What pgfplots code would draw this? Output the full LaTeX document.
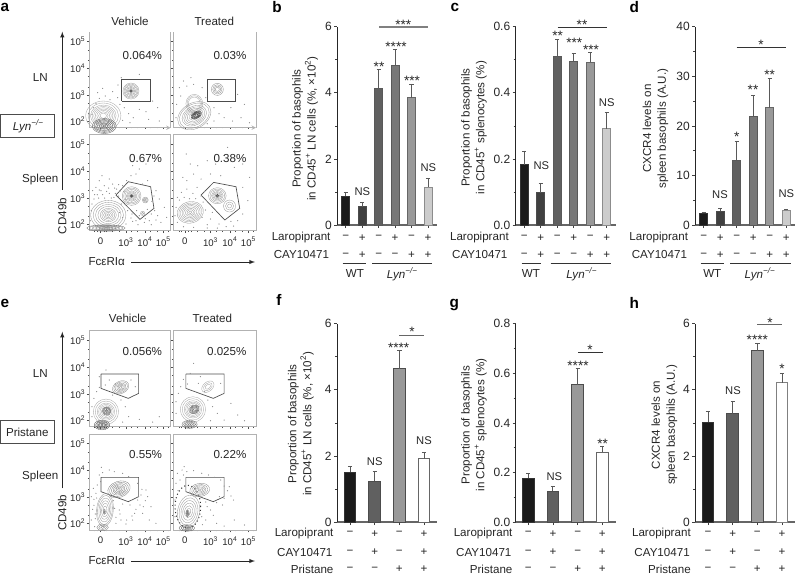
\documentclass[border=0pt]{standalone}
\usepackage{fontspec}
\setmainfont{Liberation Sans}
\usepackage{pgfplots}
\pgfplotsset{compat=1.18}

\definecolor{txt}{HTML}{262626}
\definecolor{c1}{HTML}{1A1A1A}
\definecolor{c2}{HTML}{404040}
\definecolor{c3}{HTML}{606060}
\definecolor{c4}{HTML}{787878}
\definecolor{c5}{HTML}{999999}
\definecolor{c6}{HTML}{CCCCCC}

\newcommand{\fmain}{\fontsize{8.7}{11.2}\selectfont}
\newcommand{\fnum}{\fontsize{9}{11}\selectfont}
\newcommand{\fsmall}{\fontsize{7.2}{8}\selectfont}

\pgfplotsset{
  pos/.style 2 args={at={({#1*0.75pt},{-#2*0.75pt})},anchor=south west},
  barax/.style={scale only axis,height=148.7pt,ymin=0,axis lines=left,
    axis line style={-},clip=false,
    x axis line style={draw=black!60,line width=.8pt},
    y axis line style={draw=black!85,line width=.5pt},
    tick style={black!75,line width=.5pt},tick align=outside,
    major tick length=2.4pt,minor tick length=1.6pt,minor y tick num=1,
    xticklabels={},ticklabel style={font=\fnum,text=txt,inner sep=1.5pt},
    /pgf/number format/assume math mode=true},
  facs/.style={scale only axis,width=61pt,height=72pt,
    xmin=0,xmax=244,ymin=0,ymax=288,
    axis line style={-,draw=black!30,line width=.5pt},
    tick style={black!70,line width=.3pt},tick align=outside,
    major tick length=1.8pt,minor tick length=1pt,
    xtick={34,110,167,222},ytick={19,98,178,259},
    minor xtick={16,24,44,52,70,90,127,145,184,204,236},
    minor ytick={43,75,122,154,202,234},
    xticklabels={},yticklabels={},xtick pos=bottom,ytick pos=left,
    ticklabel style={font=\fsmall,text=txt,inner sep=1pt},
    xticklabel style={yshift=-2pt}},
  rgt/.style={width=62pt},
  ylabs/.style={yticklabels={10\textsuperscript{2},10\textsuperscript{3},10\textsuperscript{4},10\textsuperscript{5}}},
  xlabs/.style={xticklabels={0,10\textsuperscript{3},10\textsuperscript{4},10\textsuperscript{5}}},
  dots/.style={only marks,mark=*,mark size=.18pt,black!45,mark options={draw=none,fill=black!45}},
  gate/.style={draw=black!70,line width=.5pt,no markers},
}

% one bar with its error whisker
\newcommand{\bbar}[5]{\addplot[ybar,bar shift=0pt,fill=#4,draw=#5,line width=.7pt,
  error bars/.cd,y dir=plus,y explicit,
  error bar style={draw=black!65,line width=.7pt},
  error mark options={rotate=90,mark size=1.6pt,draw=black!65,line width=.6pt}]
  coordinates {(#1,#2) +- (0,#3)};}
% nested contour levels of one cell population
\newcommand{\blob}[6]{\pgfplotsinvokeforeach{#6}{\addplot[only marks,mark=o,mark size=##1pt,
  mark options={solid,draw=#5,fill=none,line width=.25pt,rotate=#4,xscale=#3}] coordinates {(#1,#2)};}}

\newcommand{\T}[3]{\node[text=txt,font=\fmain] at (#1,#2) {#3};}
\newcommand{\NS}[2]{\node[text=txt,font=\fontsize{8.4}{10}\selectfont] at (#1,#2) {NS};}
\newcommand{\Sg}[3]{\node[text=txt,anchor=base,inner sep=0pt,font=\fontsize{10.2}{11}\selectfont] at (#1,{#2+7.7}) {#3};}
\newcommand{\Lr}[2]{\node[text=txt,anchor=east,inner sep=0pt,font=\fmain] at (#1,#2) {Laropiprant};}
\newcommand{\Ca}[2]{\node[text=txt,anchor=east,inner sep=0pt,font=\fmain] at (#1,#2) {CAY10471};}
\newcommand{\Prs}[2]{\node[text=txt,anchor=east,inner sep=0pt,font=\fmain] at (#1,#2) {Pristane};}
\newcommand{\Signs}[4]{\foreach \s [count=\i from 0] in {#4} \node[text=txt,inner sep=0pt,font=\fmain] at ({#1+\i*#2},#3) {\s};}
\newcommand{\Yl}[3]{\node[text=txt,rotate=90,align=center,font=\fmain] at (#1,#2) {#3};}
\newcommand{\Pl}[3]{\node[text=black,font=\bfseries\fontsize{11.5}{12}\selectfont] at (#1,#2) {#3};}
\newcommand{\Pc}[3]{\node[text=txt,anchor=east,inner sep=0pt,font=\fmain] at (#1,#2) {#3};}
\newcommand{\Lyn}{\textit{Lyn}\textsuperscript{\textit{−/−}}}
\newcommand{\LNa}{Proportion of basophils\\in CD45\textsuperscript{+} LN cells (\%, ×10\textsuperscript{2})}
\newcommand{\SPa}{Proportion of basophils\\in CD45\textsuperscript{+} splenocytes (\%)}
\newcommand{\CXa}{CXCR4 levels on\\spleen basophils (A.U.)}

\begin{document}
\begin{tikzpicture}[x=0.75pt,y=-0.75pt]
\path[use as bounding box] (0,0) rectangle (795,575);

% ---- panel a, flow plots
\begin{axis}[facs,pos={89.3}{127.7},ylabs,axis x line=bottom,axis y line=box]
\addplot[dots] coordinates {(12,60)(20,72)(30,88)(48,95)(62,84)(85,90)(92,70)(105,60)(118,42)(132,30)(150,55)(170,48)(190,80)(205,60)(25,105)(40,118)(70,108)(86,128)(150,160)(96,150)(8,40)(100,22)(122,15)(178,25)(210,20)};
\blob{42}{36}{1.2}{0}{black!35}{2,3,4,5,6,7,8,9.5,11}
\blob{45}{5}{1.6}{0}{black!65}{.8,1.6,2.4,3.2,4,4.8,5.6}
\blob{125}{110}{1}{0}{black!40}{1.2,2,2.8,3.6,4.4,5.2,6}
\blob{125}{110}{1}{0}{black!80}{.5,1}
\addplot[gate] coordinates {(97,79)(182,79)(182,144)(97,144)(97,79)};
\end{axis}
\begin{axis}[facs,rgt,pos={173.3}{127.7},axis x line=bottom,axis y line=box]
\addplot[dots] coordinates {(10,70)(22,95)(18,120)(40,125)(60,130)(85,120)(96,90)(120,60)(135,42)(150,30)(170,60)(200,30)(225,15)(8,30)(210,70)(190,100)(175,20)(120,20)(100,12)(30,140)(52,150)};
\blob{62}{72}{.9}{0}{black!35}{5,6,7}
\blob{62}{36}{1.4}{30}{black!40}{1,2,3,4,5,6,7,8.5,9.5}
\blob{68}{38}{1.8}{30}{black!80}{.8,1.2,1.6,2,2.4}
\blob{130}{115}{1}{0}{black!45}{1.5,2.5,3.5,4.5}
\addplot[gate] coordinates {(99,79)(183,79)(183,144)(99,144)(99,79)};
\end{axis}
\begin{axis}[facs,pos={89.3}{230.7},ylabs,xlabs]
\addplot[dots] coordinates {(8,80)(14,95)(24,108)(35,120)(46,98)(60,112)(74,100)(82,125)(92,118)(20,130)(45,135)(70,140)(100,135)(112,150)(125,165)(140,170)(160,140)(175,150)(200,120)(210,95)(196,60)(205,45)(180,30)(165,25)(140,30)(125,38)(110,20)(100,40)(90,55)(115,60)(128,50)(142,60)(150,45)(168,36)(186,50)(96,80)(108,78)(60,155)(30,150)(10,120)(6,60)(150,185)(170,200)(130,195)(225,70)(232,40)(215,25)(3,30)(38,165)(16,108)(28,98)(40,108)(52,118)(66,98)(78,112)(88,104)(30,122)(58,128)(76,128)(88,138)(104,118)(110,94)(116,84)(130,28)(146,18)(186,18)(200,32)(174,64)(188,88)(194,104)};
\blob{57}{47}{1.2}{0}{black!40}{1,2,3,4,5,6.5,8,9.5,11}
\blob{50}{8}{6}{0}{black!55}{.5,.9,1.3,1.7,2.1,2.4}
\blob{127}{104}{1}{0}{black!40}{1.6,2.4,3.2,4,5,6,7}
\blob{127}{104}{1}{0}{black!80}{.6,1.1}
\blob{168}{92}{1}{0}{black!45}{.8,1.5,2.2}
\blob{160}{52}{1}{0}{black!40}{.8,1.6}
\addplot[gate] coordinates {(117,147)(184,132)(194,67)(152,34)(80,107)(117,147)};
\end{axis}
\begin{axis}[facs,rgt,pos={173.3}{230.7},xlabs]
\addplot[dots] coordinates {(12,100)(24,115)(40,125)(58,112)(70,130)(92,118)(40,150)(28,160)(82,155)(110,170)(125,200)(100,210)(150,225)(180,190)(205,130)(220,90)(205,50)(190,30)(170,28)(135,20)(110,35)(100,18)(85,40)(95,62)(115,55)(60,170)(72,195)(50,200)(38,230)(140,165)(160,250)(205,200)(225,160)(12,25)(30,12)(60,10)(130,8)(5,45)(18,92)(32,100)(48,96)(66,96)(82,104)(88,86)(8,70)(100,8)(156,12)(178,14)};
\blob{50}{55}{1.25}{15}{black!40}{1,2,3,4,5,6,7,8}
\blob{130}{105}{1.1}{0}{black!40}{1.6,2.4,3.2,4,5,6}
\blob{130}{105}{1.1}{0}{black!80}{.6,1.1}
\blob{166}{74}{1}{0}{black!40}{1.5,3,4.5}
\addplot[gate] coordinates {(119,145)(185,132)(196,67)(152,32)(82,107)(119,145)};
\end{axis}

% ---- panel e, flow plots
\begin{axis}[facs,pos={89.3}{426.7},ylabs]
\addplot[dots] coordinates {(8,60)(14,85)(22,105)(30,118)(48,125)(78,128)(70,95)(95,80)(108,60)(118,30)(150,22)(190,14)(30,150)(50,170)(100,14)(60,140)(8,30)(125,140)(138,120)(210,30)};
\blob{50}{45}{1}{0}{black!35}{3.5,4.5,5.5,6.5,8,9.5}
\blob{52}{47}{1}{0}{black!65}{.8,1.4,2,2.6,3.2}
\blob{38}{5}{1.6}{0}{black!70}{.6,1.2,1.8,2.4,3,3.6}
\blob{94}{118}{1.4}{25}{black!45}{.8,1.5,2.2,3,3.8,4.6}
\addplot[gate] coordinates {(35,158)(148,158)(148,100)(117,85)(35,115)(35,158)};
\end{axis}
\begin{axis}[facs,rgt,pos={173.3}{426.7}]
\addplot[dots] coordinates {(8,75)(15,100)(22,120)(42,128)(74,130)(92,105)(102,80)(116,60)(130,40)(150,20)(190,35)(30,142)(50,160)(80,150)(8,40)(110,18)(140,130)(210,18)(170,70)(60,190)};
\blob{58}{52}{1}{0}{black!35}{3.5,4.5,5.5,6.5,8,9.5}
\blob{62}{52}{1.2}{30}{black!65}{.8,1.4,2,2.6,3.2}
\blob{48}{7}{1.9}{0}{black!60}{.6,1.2,1.8,2.4,3}
\blob{102}{120}{1.5}{40}{black!35}{1.5,2.5,3.5}
\addplot[gate] coordinates {(37,158)(150,158)(150,100)(118,85)(37,115)(37,158)};
\end{axis}
\begin{axis}[facs,pos={89.3}{530},ylabs,xlabs]
\addplot[dots] coordinates {(6,30)(10,62)(14,92)(20,110)(12,125)(24,135)(34,145)(30,165)(40,172)(80,38)(90,60)(100,78)(95,30)(110,18)(128,42)(145,90)(152,75)(140,62)(155,105)(168,88)(160,50)(130,30)(122,75)(158,122)(145,140)(118,160)(100,170)(75,175)(60,180)(36,188)(170,120)(175,100)(185,70)(72,88)(76,65)(6,100)(18,48)(180,30)(200,20)(16,10)(14,74)(18,34)(22,96)(80,20)(92,48)(136,50)(148,100)(162,70)(112,30)};
\blob{47}{60}{.5}{-5}{black!40}{3,5,7,9,11,12.5}
\blob{45}{55}{.4}{0}{black!55}{1,2}
\blob{40}{8}{1.8}{0}{black!50}{.8,1.6,2.4}
\blob{89}{122}{1.45}{20}{black!50}{.8,1.6,2.4,3.2,4,5,6}
\addplot[gate] coordinates {(35,158)(148,158)(148,100)(117,85)(35,115)(35,158)};
\end{axis}
\begin{axis}[facs,rgt,pos={173.3}{530},xlabs]
\addplot[only marks,mark=o,mark size=16pt,mark options={dotted,draw=black!80,fill=none,line width=.8pt,xscale=.6}] coordinates {(43,70)};
\addplot[dots] coordinates {(8,140)(14,118)(20,150)(30,165)(26,180)(40,175)(60,178)(84,170)(104,165)(122,158)(140,150)(150,132)(136,100)(128,82)(110,60)(118,44)(96,30)(86,16)(128,20)(150,12)(96,84)(100,70)(84,40)(145,75)(160,118)(170,102)(178,90)(150,95)(12,170)(5,90)(180,30)(210,15)(5,40)(32,190)(165,130)};
\blob{45}{55}{.66}{-10}{black!40}{2.5,4.5,6.5,8.5,10.5,12.5}
\blob{42}{50}{.55}{0}{black!60}{.8,1.6,2.4}
\blob{78}{120}{1.5}{10}{black!45}{.8,1.6,2.4,3.2,4,5}
\blob{40}{6}{2.4}{0}{black!65}{.6,1.2,1.8,2.4}
\addplot[gate] coordinates {(37,158)(150,158)(150,100)(118,85)(37,115)(37,158)};
\end{axis}

% ---- panel b
\begin{axis}[barax,width=74.55pt,pos={337.3}{225},
  xmin=-0.51,xmax=5.525,ymax=6,xtick={0,...,5},ytick={0,2,4,6},bar width=6pt]
\bbar{0}{0.87}{0.11}{c1}{black!80}
\bbar{1}{0.55}{0.13}{c2}{black!70}
\bbar{2}{4.12}{0.58}{c3}{black!65}
\bbar{3}{4.83}{0.47}{c4}{black!65}
\bbar{4}{3.85}{0.42}{c5}{black!60}
\bbar{5}{1.15}{0.25}{c6}{black!45}
\end{axis}
% ---- panel c
\begin{axis}[barax,width=75pt,pos={515.7}{225},
  xmin=-0.522,xmax=5.55,ymax=0.6,xtick={0,...,5},ytick={0,0.2,0.4,0.6},bar width=6pt,
  /pgf/number format/.cd,fixed,fixed zerofill,precision=1]
\bbar{0}{0.182}{0.042}{c1}{black!80}
\bbar{1}{0.098}{0.028}{c2}{black!70}
\bbar{2}{0.509}{0.053}{c3}{black!65}
\bbar{3}{0.496}{0.023}{c4}{black!65}
\bbar{4}{0.493}{0.030}{c5}{black!60}
\bbar{5}{0.292}{0.049}{c6}{black!45}
\end{axis}
% ---- panel d
\begin{axis}[barax,width=74.8pt,pos={695.3}{225},
  xmin=-0.51,xmax=5.53,ymax=40,xtick={0,...,5},ytick={0,10,20,30,40},bar width=6pt]
\bbar{0}{2.35}{0.2}{c1}{black!80}
\bbar{1}{2.75}{0.6}{c2}{black!70}
\bbar{2}{13.04}{3.76}{c3}{black!65}
\bbar{3}{21.85}{4.3}{c4}{black!65}
\bbar{4}{23.66}{5.84}{c5}{black!60}
\bbar{5}{2.96}{0.19}{c6}{black!45}
\end{axis}
% ---- panel f
\begin{axis}[barax,width=74.8pt,pos={337}{522},
  xmin=-0.527,xmax=3.514,ymax=6,xtick={0,...,3},ytick={0,2,4,6},bar width=8.8pt]
\bbar{0}{1.5}{0.17}{c1}{black!80}
\bbar{1}{1.23}{0.29}{c3}{black!70}
\bbar{2}{4.64}{0.55}{c5}{black!70}
\bbar{3}{1.92}{0.19}{white}{black!60}
\end{axis}
% ---- panel g
\begin{axis}[barax,width=75pt,pos={515.7}{522},
  xmin=-0.51,xmax=3.543,ymax=0.8,xtick={0,...,3},ytick={0,0.2,0.4,0.6,0.8},bar width=8.8pt,
  /pgf/number format/.cd,fixed,fixed zerofill,precision=1]
\bbar{0}{0.177}{0.019}{c1}{black!80}
\bbar{1}{0.124}{0.02}{c3}{black!70}
\bbar{2}{0.553}{0.066}{c5}{black!70}
\bbar{3}{0.282}{0.024}{white}{black!60}
\end{axis}
% ---- panel h
\begin{axis}[barax,width=74.8pt,pos={695.3}{522},
  xmin=-0.515,xmax=3.527,ymax=6,xtick={0,...,3},ytick={0,2,4,6},bar width=8.8pt]
\bbar{0}{3.02}{0.32}{c1}{black!80}
\bbar{1}{3.27}{0.37}{c3}{black!70}
\bbar{2}{5.19}{0.21}{c5}{black!70}
\bbar{3}{4.22}{0.28}{white}{black!50}
\end{axis}

% ---- text around the flow plots
\Pl{5}{7}{a}\Pl{5}{303}{e}
\T{130}{21.7}{Vehicle}\T{214.3}{21.7}{Treated}
\T{40.3}{77.3}{LN}\T{40.3}{179.3}{Spleen}
\draw[draw=black!70,line width=.6pt] (0.7,114.3) rectangle (54,137);
\T{28.3}{126}{\Lyn}
\draw[-latex,black!85,line width=.5pt] (62.3,190)--(62.3,31.7);
\node[text=txt,rotate=90,font=\fmain] at (62.3,216) {CD49b};
\T{106.7}{262}{FcεRIα}
\draw[-latex,black!85,line width=.5pt] (131,262)--(255,262);
\Pc{162.3}{55.7}{0.064\%}\Pc{246.7}{55.7}{0.03\%}
\Pc{162.3}{158.7}{0.67\%}\Pc{246.7}{158.7}{0.38\%}

\T{127.7}{318.3}{Vehicle}\T{212.3}{318.3}{Treated}
\T{40.3}{374}{LN}\T{40.3}{476}{Spleen}
\draw[draw=black!70,line width=.6pt] (0.7,420.7) rectangle (54,443.7);
\T{27.3}{432}{Pristane}
\draw[-latex,black!85,line width=.5pt] (62.3,488.3)--(62.3,331.7);
\node[text=txt,rotate=90,font=\fmain] at (62.3,512.7) {CD49b};
\T{106.7}{561}{FcεRIα}
\draw[-latex,black!85,line width=.5pt] (131,561)--(255,561);
\Pc{162.3}{351.7}{0.056\%}\Pc{246.7}{351.7}{0.025\%}
\Pc{162.3}{454.7}{0.55\%}\Pc{246.7}{454.7}{0.22\%}

% ---- top bar panels, annotations
\Pl{277}{7.3}{b}\Pl{455}{7.3}{c}\Pl{634.3}{7.3}{d}
\Yl{305.2}{128.5}{\LNa}\Yl{474}{127.5}{\SPa}\Yl{655.5}{128.5}{\CXa}
\Lr{330.7}{237.7}\Ca{329.3}{255}
\Lr{509}{237.7}\Ca{507.7}{255}
\Lr{688.3}{237.7}\Ca{687.3}{255}
\Signs{345.7}{16.47}{237.7}{−,+,−,+,−,+}\Signs{345.7}{16.47}{255}{−,+,−,−,+,+}
\Signs{524.3}{16.47}{237.7}{−,+,−,+,−,+}\Signs{524.3}{16.47}{255}{−,+,−,−,+,+}
\Signs{703.7}{16.5}{237.7}{−,+,−,+,−,+}\Signs{703.7}{16.5}{255}{−,+,−,−,+,+}
\foreach \xa/\xb/\xc/\xd/\w/\l in {342.7/366.3/372/432.3/355/402.3,521.7/540.7/550.7/611/531/581.7,700.7/724.3/730.3/790.7/712.3/760}{
  \draw[black!80,line width=.5pt] (\xa,263.3)--(\xb,263.3) (\xc,263.3)--(\xd,263.3);
  \T{\w}{274}{WT}\T{\l}{274}{\Lyn}}
\draw[black!50,line width=.9pt] (379,27)--(428,27);\Sg{403.3}{21.7}{***}
\Sg{379}{63.3}{**}\Sg{396}{44}{****}\Sg{412}{77.3}{***}\NS{428.3}{167.7}\NS{362.3}{192}
\draw[black!80,line width=.6pt] (557.7,27.3)--(606.7,27.3);\Sg{582}{22}{**}
\Sg{557.7}{32.3}{**}\Sg{574.3}{40}{***}\Sg{591}{46.7}{***}\NS{606.7}{102.7}\NS{541.3}{165.3}
\draw[black!80,line width=.6pt] (736.7,47)--(785.7,47);\Sg{761}{41.3}{*}
\Sg{736.7}{134}{*}\Sg{753}{87}{**}\Sg{769.7}{71.3}{**}\NS{720}{194.3}\NS{786.3}{193.3}

% ---- bottom bar panels, annotations
\Pl{279}{300}{f}\Pl{454.3}{305}{g}\Pl{634.3}{303.3}{h}
\Yl{300.8}{423.8}{\LNa}\Yl{474}{425}{\SPa}\Yl{664.3}{425}{\CXa}
\Lr{333.7}{533.7}\Ca{332.7}{552}\Prs{333.7}{569}
\Lr{512.7}{533.7}\Ca{511.7}{552}\Prs{512.7}{569}
\Lr{691}{533.7}\Ca{690}{552}\Prs{691}{569}
\foreach \x in {350,528.3,708}{
  \Signs{\x}{24.67}{533.7}{−,+,−,+}\Signs{\x}{24.67}{552}{−,+,−,+}\Signs{\x}{24.67}{569.5}{−,−,+,+}}
\draw[black!60,line width=.9pt] (399.3,335.7)--(424.3,335.7);\Sg{412}{328.7}{*}
\Sg{398.7}{345}{****}\NS{374.7}{461.7}\NS{424}{441}
\draw[black!80,line width=.6pt] (578.3,352)--(602.7,352);\Sg{590}{346.3}{*}
\Sg{578}{362.7}{****}\Sg{602.7}{441}{**}\NS{554.3}{476.7}
\draw[black!60,line width=.9pt] (757.3,324.7)--(782.3,324.7);\Sg{770}{320}{*}
\Sg{757.3}{337}{****}\Sg{782}{365.7}{*}\NS{733}{390.7}
\end{tikzpicture}
\end{document}
